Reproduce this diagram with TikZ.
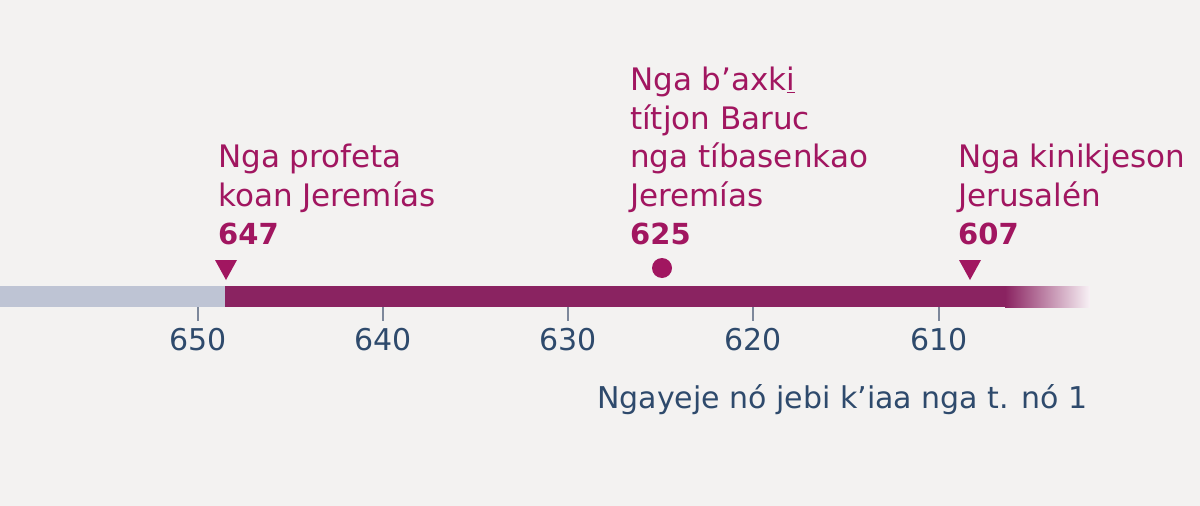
\documentclass[tikz,border=0pt]{standalone}
\usepackage{fontspec}
\setmainfont{DejaVu Sans}
\usetikzlibrary{positioning}
\definecolor{plum}{HTML}{8A2361}
\definecolor{rose}{HTML}{A11660}
\definecolor{mist}{HTML}{BEC4D4}
\definecolor{navy}{HTML}{2E4A6C}
\definecolor{tickgrey}{HTML}{7D889B}
\definecolor{paper}{HTML}{F3F2F1}
\newcommand{\subi}[1]{\underline{#1}}

\begin{document}
\begin{tikzpicture}[x=1pt,y=-1pt]
\tikzset{event/.style={anchor=base west, inner sep=0pt, text=rose, align=left, font=\fontsize{31}{38.5}\selectfont}}
\tikzset{year/.style={event, font=\fontsize{29}{38}\selectfont\bfseries}}
\tikzset{tick/.style={draw=tickgrey, line width=2.2pt}}
\tikzset{ticklabel/.style={anchor=base, inner sep=0pt, text=navy, font=\fontsize{30}{36}\selectfont}}
\tikzset{dot/.style={circle, fill=rose, inner sep=0pt, minimum size=20pt}}
% background and frame
\fill[paper] (0,0) rectangle (1200,506);
\useasboundingbox (0,0) rectangle (1200,506);
% the bar
\fill[mist] (0,286) rectangle (225,307);
\fill[plum] (225,286) rectangle (1005,307);
\shade[left color=plum, right color=plum!6!white] (1005,286) rectangle (1090,307);
% scale
\foreach \yr/\x in {650/198,640/383,630/568,620/753,610/939}{
  \draw[tick] (\x,307) -- (\x,321);
  \node[ticklabel] (t\yr) at (\x,350) {\yr};
}
% events
\node[event] (e647) at (218,206) {Nga profeta\\koan Jeremías};
\node[year] (y647) at (218,244) {647};
\coordinate (m647) at (226,270);
\fill[rose] (m647) ++(-11,-10) -- ++(22,0) -- ++(-11,20) -- cycle;

\node[event] (e625) at (630,206) {Nga b’axk\subi{i}\\títjon Baruc\\nga tíbasenkao\\Jeremías};
\node[year] (y625) at (630,244) {625};
\node[dot] (d625) at (662,268) {};

\node[event] (e607) at (958,206) {Nga kinikjeson\\Jerusalén};
\node[year] (y607) at (958,244) {607};
\coordinate (m607) at (970,270);
\fill[rose] (m607) ++(-11,-10) -- ++(22,0) -- ++(-11,20) -- cycle;
% caption
\node[ticklabel, anchor=base east] (note) at (1088,408) {Ngayeje nó jebi k’iaa nga t. nó 1};
\end{tikzpicture}
\end{document}
